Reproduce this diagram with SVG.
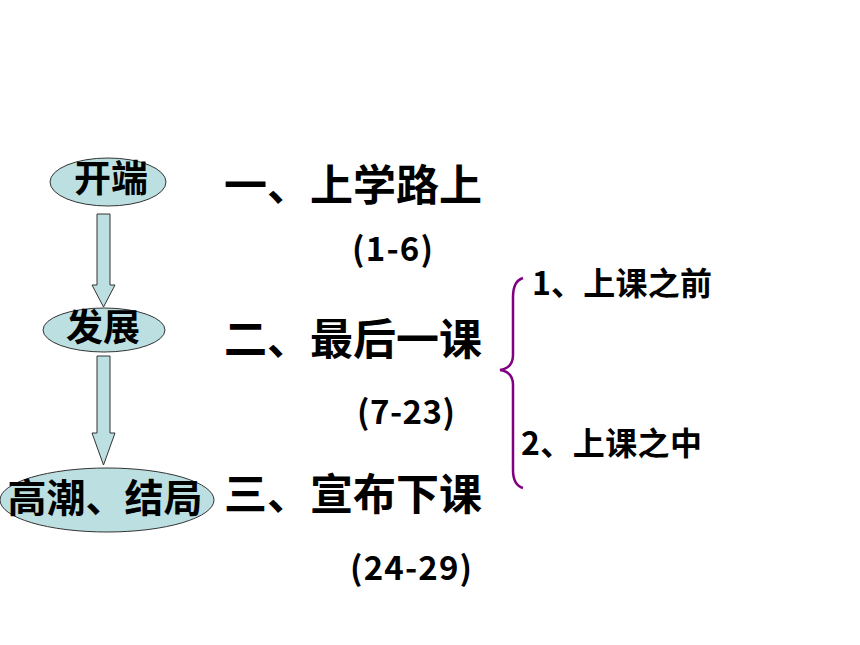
<svg xmlns="http://www.w3.org/2000/svg" width="860" height="645" viewBox="0 0 860 645">
<style>
.shape{fill:#BCE0E2;stroke:#333;stroke-width:1}
.t{font-family:"Noto Sans CJK SC","Liberation Sans",sans-serif;fill:#000;font-weight:bold}
.h{font-size:43px}
.n{font-size:33px}
.e{font-size:37px}
.s{font-size:32px}
</style>
<rect width="860" height="645" fill="#fff"/>
<g id="connectors">
<path class="shape" d="M97,214 H110 V285 H115 L103.5,307 L92,285 H97 Z"/>
<path class="shape" d="M97,356 H110 V433 H115 L103.5,465 L92,433 H97 Z"/>
<path d="M523,278 Q513,281 513,297 V355 Q513,368 500,370 Q513,372 513,385 V470 Q513,485 523,488" fill="none" stroke="#800080" stroke-width="2.5"/>
</g>
<g id="node-kaiduan">
<ellipse class="shape" cx="108" cy="182" rx="58" ry="24"/>
<text class="t e" x="111" y="192" text-anchor="middle">开端</text>
</g>
<g id="node-fazhan">
<ellipse class="shape" cx="104" cy="330" rx="61" ry="22"/>
<text class="t e" x="103" y="341" text-anchor="middle">发展</text>
</g>
<g id="node-gaochao">
<ellipse class="shape" cx="107" cy="500" rx="107" ry="32"/>
<text class="t e" x="105" y="512" text-anchor="middle" style="font-size:39px">高潮、结局</text>
</g>
<g id="section1">
<text class="t h" x="224" y="201">一、上学路上</text>
<text class="t n" x="352" y="261" textLength="81" lengthAdjust="spacing">(1-6)</text>
</g>
<g id="section2">
<text class="t h" x="224" y="355">二、最后一课</text>
<text class="t n" x="357" y="424" textLength="98" lengthAdjust="spacing">(7-23)</text>
</g>
<g id="section3">
<text class="t h" x="224" y="510">三、宣布下课</text>
<text class="t n" x="350" y="580" textLength="122" lengthAdjust="spacing">(24-29)</text>
</g>
<g id="sub1">
<text class="t s" x="532" y="295" textLength="180" lengthAdjust="spacing">1、上课之前</text>
</g>
<g id="sub2">
<text class="t s" x="521" y="455" textLength="181" lengthAdjust="spacing">2、上课之中</text>
</g>
</svg>
